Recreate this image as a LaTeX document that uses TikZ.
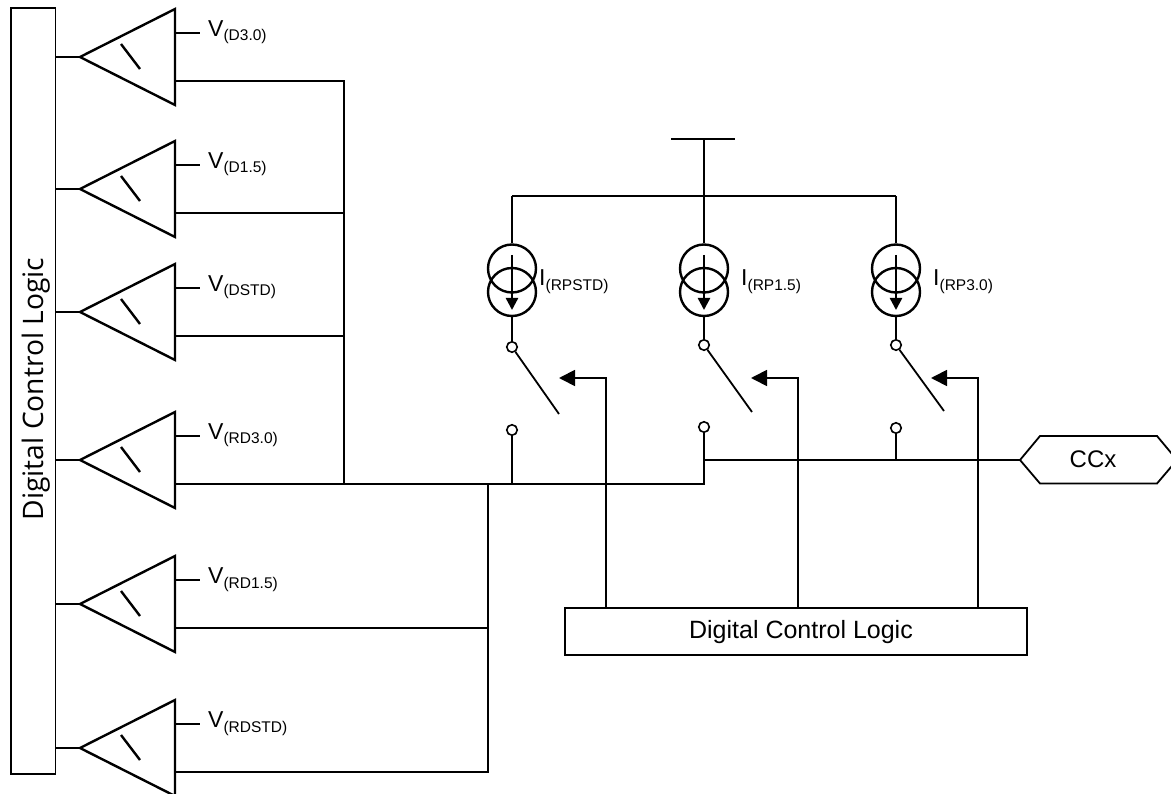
\documentclass[tikz,border=0pt]{standalone}
\usepackage{fontspec}
\setmainfont{Liberation Sans}
\newfontfamily\sidefont{Open Sans}
\usetikzlibrary{arrows.meta}
\tikzset{
  wire/.style={line width=2.4pt,line join=miter},
  thin wire/.style={line width=1.8pt},
  thin box/.style={draw,line width=1.7pt},
  term/.style={circle,draw,line width=1.6pt,fill=white,minimum size=10.5pt,inner sep=0pt},
  src/.style={circle,draw,line width=2.4pt,minimum size=48pt,inner sep=0pt},
  ctl/.style={line width=1.8pt,-{Triangle[length=16pt,width=16pt]}},
  lab/.style={inner sep=0pt,anchor=base west,font=\fontsize{23}{23}\selectfont},
  plain text/.style={inner sep=0pt,font=\fontsize{16}{16}\selectfont}
}
\newcommand{\lbl}[2]{#1\raisebox{-4.5pt}{\fontsize{15.5}{15}\selectfont(#2)}}
\newcommand{\comparator}[3]{%
  \coordinate (#1a) at (80,#2);
  \coordinate (#1t) at (175,#2-48);
  \coordinate (#1b) at (175,#2+48);
  \coordinate (#1v) at (175,#2-24);
  \coordinate (#1o) at (175,#2+24);
  \coordinate (#1e) at (200,#2-24);
  \coordinate (#1i) at (55,#2);
  \coordinate (#1p) at (121,#2-13);
  \coordinate (#1q) at (140,#2+12);
  \draw[wire] (#1a) -- (#1t) -- (#1b) -- cycle;
  \draw[wire] (#1p) -- (#1q);
  \draw[wire] (#1i) -- (#1a);
  \draw[wire] (#1v) -- (#1e);
  \node[lab] (#1l) at (208,#2-20.5) {\lbl{V}{#3}};
}
\newcommand{\isrc}[4]{%
  \node[src] (#1u) at (#2,268.5) {};
  \node[src] (#1d) at (#2,292) {};
  \coordinate (#1s) at (#2,255);
  \coordinate (#1f) at (#2,310);
  \draw[wire,-{Triangle[length=12pt,width=12pt]}] (#1s) -- (#1f);
  \node[lab] (#1l) at (#2+#4,286) {\lbl{I}{#3}};
}
\begin{document}
\begin{tikzpicture}[x=1pt,y=-1pt]
\useasboundingbox (0,0) rectangle (1171,794);
\node[thin box,minimum width=44.5pt,minimum height=766pt,inner sep=0pt] (dcl) at (33.2,391) {};
\node[rotate=90,inner sep=0pt,font=\sidefont\fontsize{28.2}{28}\selectfont] (dcltext) at (36,389) {Digital Control Logic};

\comparator{c1}{57}{D3.0}
\comparator{c2}{189}{D1.5}
\comparator{c3}{312}{DSTD}
\comparator{c4}{460}{RD3.0}
\comparator{c5}{604}{RD1.5}
\comparator{c6}{748}{RDSTD}

% buses
\coordinate (ja) at (344,81);
\coordinate (jb) at (344,213);
\coordinate (jc) at (344,336);
\coordinate (jd) at (344,484);
\coordinate (je) at (488,484);
\coordinate (jf) at (488,628);
\coordinate (jg) at (488,772);
\coordinate (jh) at (512,484);
\coordinate (ji) at (704,484);
\coordinate (jj) at (704,460);
\coordinate (jk) at (896,460);
\draw[wire] (c1o) -- (ja) -- (jd);
\draw[wire] (c2o) -- (jb);
\draw[wire] (c3o) -- (jc);
\draw[wire] (c4o) -- (ji) -- (jj);
\draw[wire] (je) -- (jg) -- (c6o);
\draw[wire] (c5o) -- (jf);

% supply
\coordinate (vl) at (671,139);
\coordinate (vr) at (735,139);
\coordinate (vm) at (704,139);
\coordinate (rl) at (512,196);
\coordinate (rm) at (704,196);
\coordinate (rr) at (896,196);
\draw[thin wire] (vl) -- (vr);

% current sources
\isrc{a}{512}{RPSTD}{27}
\isrc{b}{704}{RP1.5}{37}
\isrc{c}{896}{RP3.0}{37}
\draw[wire] (vm) -- (bu.north);
\draw[wire] (rl) -- (rr);
\draw[wire] (au.north) -- (rl);
\draw[wire] (cu.north) -- (rr);

% switches
\node[term] (a1) at (512,347) {};
\node[term] (a2) at (512,430) {};
\node[term] (b1) at (704,345) {};
\node[term] (b2) at (704,427) {};
\node[term] (c1t) at (896,345) {};
\node[term] (c2t) at (896,428) {};
\draw[wire] (ad.south) -- (a1.north);
\draw[wire] (bd.south) -- (b1.north);
\draw[wire] (cd.south) -- (c1t.north);
\draw[wire] (jh) -- (a2.south);
\draw[wire] (ji) -- (b2.south);
\draw[wire] (jk) -- (c2t.south);
\coordinate (aarm) at (559,414);
\coordinate (barm) at (752,412);
\coordinate (carm) at (944,411);
\draw[thin wire] (a1) -- (aarm);
\draw[thin wire] (b1) -- (barm);
\draw[thin wire] (c1t) -- (carm);

% CCx
\node[plain text,font=\fontsize{24}{24}\selectfont] (ccx) at (1093,459) {CCx};
\coordinate (h1) at (1020,460);
\coordinate (h2) at (1040,436);
\coordinate (h3) at (1157,436);
\coordinate (h4) at (1177,460);
\coordinate (h5) at (1157,483.5);
\coordinate (h6) at (1040,483.5);
\draw[thin wire] (h1) -- (h2) -- (h3) -- (h4) -- (h5) -- (h6) -- cycle;
\draw[wire] (jj) -- (h1);

% lower logic block
\node[thin box,minimum width=462pt,minimum height=47pt,inner sep=0pt] (low) at (796,631.5) {};
\node[plain text,font=\fontsize{25}{25}\selectfont] (lowt) at (801,632) {Digital Control Logic};
\coordinate (ta) at (606,378);
\coordinate (tb) at (798,378);
\coordinate (tc) at (978,378);
\coordinate (ha) at (559,378);
\coordinate (hb) at (751,378);
\coordinate (hc) at (931,378);
\coordinate (ba) at (606,608);
\coordinate (bb) at (798,608);
\coordinate (bc) at (978,608);
\draw[ctl] (ba) -- (ta) -- (ha);
\draw[ctl] (bb) -- (tb) -- (hb);
\draw[ctl] (bc) -- (tc) -- (hc);
\end{tikzpicture}
\end{document}
